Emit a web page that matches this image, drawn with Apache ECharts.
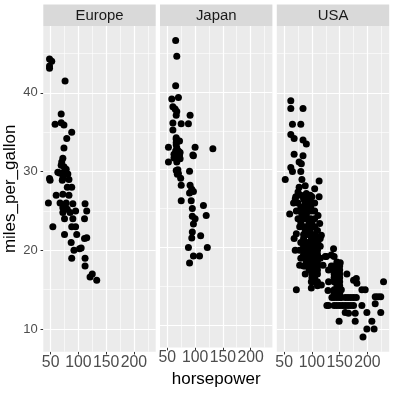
<!DOCTYPE html>
<html><head><meta charset="utf-8">
<script src="https://cdn.jsdelivr.net/npm/echarts@6/dist/echarts.min.js"></script>
<style>html,body{margin:0;padding:0;background:#fff}#c{width:393px;height:393px}</style>
</head><body><div id="c"></div>
<script>
const facets = ['Europe', 'Japan', 'USA'];

// [horsepower, miles_per_gallon]
const europePoints = [[48,44.3],[52,44.0],[48,43.4],[48,43.1],[76,41.5],[69,37.3],[58,36.0],[69,36.2],[74,35.9],[88,35.0],[79,34.2],[74,33.0],[72,31.7],[70,31.2],[74,30.6],[69,30.8],[78,30.3],[66,29.8],[72,29.6],[81,29.7],[48,29.1],[72,29.1],[83,29.0],[63,29.9],[74,29.9],[49,28.9],[71,28.9],[80,28.0],[88,28.0],[60,27.0],[72,27.1],[83,27.0],[46,26.0],[67,26.0],[78,26.0],[90,25.9],[112,25.9],[72,25.4],[80,25.2],[95,25.0],[115,25.0],[72,24.8],[85,24.8],[75,24.0],[90,24.0],[111,24.0],[54,23.0],[88,23.0],[95,23.0],[75,22.0],[97,22.0],[111,21.5],[115,21.6],[87,21.0],[102,20.2],[105,20.3],[92,20.0],[88,19.0],[112,19.0],[112,18.0],[125,17.0],[121,16.6],[133,16.2]];

const japanPoints = [[65,46.6],[67,44.6],[65,40.8],[58,39.1],[70,39.3],[60,38.1],[64,37.8],[67,37.5],[66,37.0],[91,37.0],[60,36.0],[75,35.9],[88,35.9],[60,35.1],[66,34.1],[72,33.7],[66,33.9],[66,33.5],[52,32.9],[66,33.2],[100,32.9],[132,32.7],[64,31.9],[73,32.2],[96,31.9],[68,32.2],[62,32.0],[62,31.5],[73,31.4],[69,31.6],[52,31.0],[67,31.0],[97,31.8],[70,32.4],[67,32.8],[72,31.8],[65,32.4],[66,29.9],[68,29.4],[90,29.8],[69,30.0],[70,29.5],[74,28.9],[75,28.0],[91,28.0],[94,27.5],[97,27.2],[90,27.0],[75,26.0],[93,26.0],[115,25.4],[95,25.0],[120,24.1],[95,24.0],[100,23.7],[97,23.0],[95,22.0],[110,21.5],[94,21.2],[88,20.0],[122,20.0],[97,18.9],[108,18.9],[90,18.0]];

const usaPoints = [[62,39.0],[62,38.0],[84,38.0],[65,36.0],[80,36.0],[62,34.7],[68,34.2],[84,34.0],[90,33.5],[68,32.2],[84,32.0],[77,31.2],[81,31.0],[62,30.5],[65,30.0],[80,30.0],[52,29.0],[82,29.0],[113,28.8],[77,28.0],[88,28.2],[105,27.8],[75,27.4],[90,27.2],[71,26.8],[100,26.8],[113,26.8],
[80,27],[88,27],[90,27],[97,27],[70,26.5],[85,26.5],[95,26.5],[67,26],[75,26],[88,26],[92,26],[100,26],[105,26],[80,25.5],[90,25.5],[98,25.5],[72,25],[78,25],[85,25],[88,25],[95,25],[100,25],[105,25],[60,24.6],[82,24.5],[90,24.5],[111,24.4],[75,24],[85,24],[88,24],[92,24],[98,24],[105,24],[80,23.5],[95,23.5],[100,23.5],[114,23.4],[78,23],[85,23],[90,23],[95,23],[100,23],[105,23],[88,22.5],[97,22.5],[110,22.5],[72,22.1],[85,22],[88,22],[90,22],[95,22],[98,22],[105,22],[117,21.9],[68,21.5],[99,21.5],[85,21.5],[110,21.5],[115,21.5],[80,21],[88,21],[90,21],[95,21],[100,21],[105,21],[110,21],[111,21.1],
[85,20.5],[90,20.5],[95,20.5],[100,20.5],[105,20.5],[110,20.5],[115,20.5],[70,20],[78,20],[88,20],[90,20],[97,20],[100,20],[105,20],[110,20],[139,20.2],[85,19.5],[95,19.5],[100,19.5],[105,19.5],[110,19.5],[135,19.4],[80,19],[88,19],[90,19],[95,19],[100,19],[105,19],[110,19],[115,19],[124,19.2],[126,19.2],[140,19.2],[90,18.5],[97,18.5],[100,18.5],[105,18.5],[110,18.5],[145,18.5],[151,18.4],[78,18.1],[85,18],[88,18],[95,18],[100,18],[105,18],[110,18],[120,18.1],[140,18],[150,18],[135,18],[95,17.5],[100,17.5],[110,17.5],[140,17.5],[145,17.5],[150,17.5],[130,17.5],[88,17],[100,17],[105,17],[110,17],[140,17],[150,17],[163,17],[100,16.5],[105,16.5],[140,16.5],[150,16.5],[180,16.4],[99,16],[105,16],[110,16],[130,16],[140,16],[150,16],[175,16.2],[229,16],[117,15.6],[110,15.5],[145,15.5],[150,15.5],[181,15.8],[72,15],[99,15.2],[129,14.9],[140,15],[145,15],[150,15],[153,15],[190,15],[196,15],[140,14.5],[150,14.5],
[136,14],[140,14],[145,14],[150,14],[153,14],[160,14],[165,14],[170,14],[175,14],[180,14],[214,14.1],[219,14.1],[224,14.1],[127,13],[130,13],[140,13],[145,13],[150,13],[155,13],[160,13],[165,13],[170,13],[175,13],[190,13],[214,13.2],[160,12.1],[166,12],[178,12],[199,12.1],[224,12.1],[149,11],[178,11],[208,11],[199,10],[212,10],[192,9]];

const xTicks = [50, 100, 150, 200];
const xMinor = [75, 125, 175, 225];
const yTicks = [10, 20, 30, 40];
const yMinor = [15, 25, 35, 45];
const xRange = [36.8, 239.2];
const yRange = [7.12, 48.48];
const facetData = [europePoints, japanPoints, usaPoints];

const FONT = '"Liberation Sans", Arial, Helvetica, sans-serif';
const panelLeft = [43.3, 160.0, 276.8];
const panelW = 112.4, panelTop = 26, panelH = 325.7;

const chart = echarts.init(document.getElementById('c'), null, {renderer: 'canvas'});

const grids = panelLeft.map(l => ({left: l, top: panelTop, width: panelW, height: panelH,
  show: true, backgroundColor: '#EBEBEB', borderWidth: 0}));

const xAxes = facets.map((f, i) => ({
  type: 'value', gridIndex: i, min: xRange[0], max: xRange[1],
  axisLine: {show: false}, splitLine: {show: false},
  axisTick: {show: true, customValues: xTicks, length: 2.75, lineStyle: {color: '#333333', width: 1}},
  axisLabel: {show: true, customValues: xTicks, color: '#4D4D4D', fontSize: 15.8, fontFamily: FONT, margin: 2.5},
  name: i === 1 ? 'horsepower' : '', nameLocation: 'middle', nameGap: 18,
  nameTextStyle: {color: '#000', fontSize: 17, fontFamily: FONT}
}));

const yAxes = facets.map((f, i) => ({
  type: 'value', gridIndex: i, min: yRange[0], max: yRange[1],
  axisLine: {show: false}, splitLine: {show: false},
  axisTick: {show: i === 0, customValues: yTicks, length: 2.75, lineStyle: {color: '#333333', width: 1}},
  axisLabel: {show: i === 0, customValues: yTicks, color: '#4D4D4D', fontSize: 13, fontFamily: FONT, margin: 5.5},
  name: i === 0 ? 'miles_per_gallon' : '', nameLocation: 'middle', nameGap: 24,
  nameTextStyle: {color: '#000', fontSize: 17, fontFamily: FONT}
}));

const gridLineData = [
  ...xMinor.map(v => ({xAxis: v, lineStyle: {color: '#FFFFFF', width: 0.6, type: 'solid'}})),
  ...yMinor.map(v => ({yAxis: v, lineStyle: {color: '#FFFFFF', width: 0.6, type: 'solid'}})),
  ...xTicks.map(v => ({xAxis: v, lineStyle: {color: '#FFFFFF', width: 1.2, type: 'solid'}})),
  ...yTicks.map(v => ({yAxis: v, lineStyle: {color: '#FFFFFF', width: 1.2, type: 'solid'}}))
];

const series = [];
facets.forEach((f, i) => {
  series.push({
    type: 'scatter', name: f + '-grid', xAxisIndex: i, yAxisIndex: i, data: [], z: 1, silent: true,
    markLine: {silent: true, z: 1, symbol: ['none', 'none'], label: {show: false}, animation: false,
      emphasis: {disabled: true}, data: gridLineData}
  });
  series.push({
    type: 'scatter', name: f, xAxisIndex: i, yAxisIndex: i, data: facetData[i], z: 10,
    symbol: 'circle', symbolSize: 7, itemStyle: {color: '#000000', opacity: 1},
    emphasis: {disabled: true}
  });
});

const graphic = facets.map((f, i) => ({
  type: 'group', children: [
    {type: 'rect', shape: {x: panelLeft[i], y: 4.4, width: panelW, height: 21.6}, style: {fill: '#D9D9D9'}},
    {type: 'text', x: panelLeft[i] + panelW / 2, y: 15.6,
      style: {text: f, fill: '#1A1A1A', fontSize: 14.9, fontFamily: FONT, align: 'center', verticalAlign: 'middle'}}
  ]
}));

chart.setOption({
  animation: false,
  backgroundColor: '#FFFFFF',
  grid: grids, xAxis: xAxes, yAxis: yAxes, series: series, graphic: graphic
});
</script>
</body></html>
